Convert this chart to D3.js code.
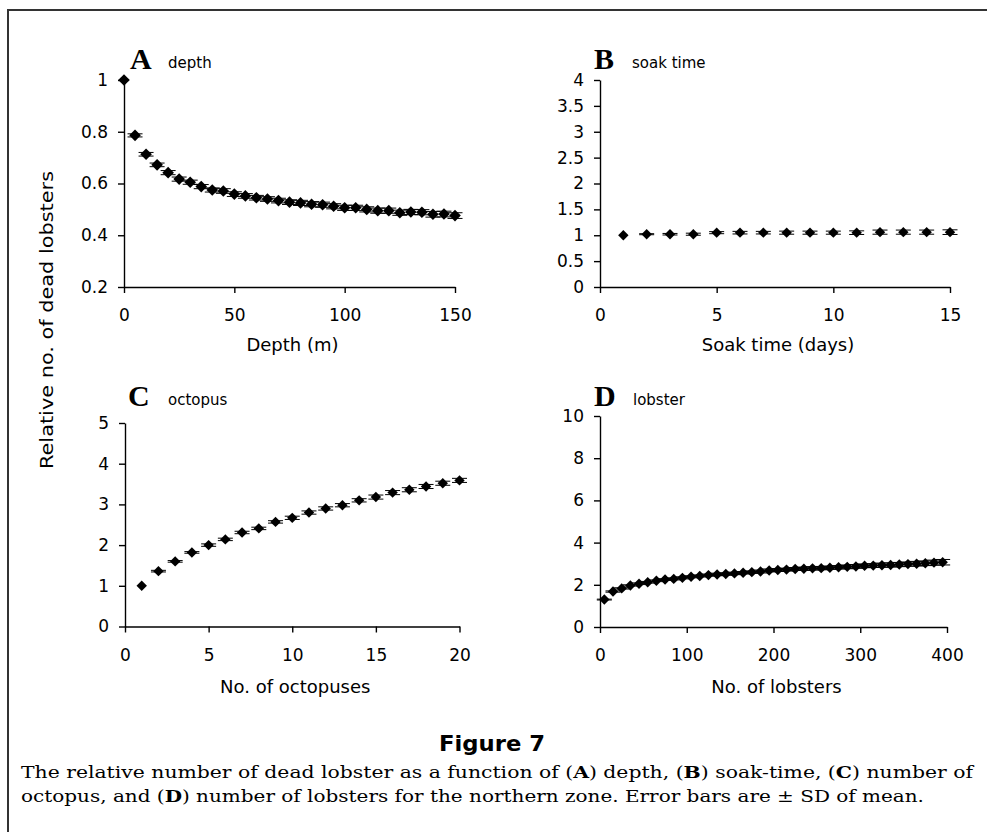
<!DOCTYPE html>
<html>
<head>
<meta charset="utf-8">
<script src="https://cdn.jsdelivr.net/npm/d3@7"></script>
<style>
body { margin: 0; background: #fff; }
svg text { fill: #000; }
</style>
</head>
<body>
<div id="chart"></div>
<script>

// A - depth
const depthX = [0, 5, 10, 15, 20, 25, 30, 35, 40, 45, 50, 55, 60, 65, 70, 75, 80, 85, 90, 95, 100, 105, 110, 115, 120, 125, 130, 135, 140, 145, 150];
const depthY = [1.000, 0.786, 0.713, 0.672, 0.642, 0.617, 0.605, 0.588, 0.575, 0.571, 0.559, 0.552, 0.545, 0.540, 0.534, 0.528, 0.525, 0.520, 0.518, 0.512, 0.506, 0.506, 0.500, 0.495, 0.495, 0.487, 0.490, 0.489, 0.481, 0.482, 0.476];
const depthSD = [0, 0.006, 0.007, 0.007, 0.008, 0.008, 0.008, 0.008, 0.008, 0.009, 0.009, 0.009, 0.009, 0.009, 0.009, 0.009, 0.010, 0.010, 0.010, 0.010, 0.010, 0.010, 0.010, 0.010, 0.010, 0.010, 0.010, 0.010, 0.011, 0.011, 0.011];
const depthTicksX = [0, 50, 100, 150];
const depthTicksY = [0.2, 0.4, 0.6, 0.8, 1];

// B - soak time
const soakX = [1, 2, 3, 4, 5, 6, 7, 8, 9, 10, 11, 12, 13, 14, 15];
const soakY = [1.00, 1.02, 1.02, 1.02, 1.05, 1.05, 1.05, 1.05, 1.05, 1.05, 1.05, 1.06, 1.06, 1.06, 1.06];
const soakSD = [0, 0.01, 0.015, 0.02, 0.02, 0.025, 0.025, 0.03, 0.03, 0.03, 0.035, 0.04, 0.04, 0.04, 0.045];
const soakTicksX = [0, 5, 10, 15];
const soakTicksY = [0, 0.5, 1, 1.5, 2, 2.5, 3, 3.5, 4];

// C - octopus
const octX = [1, 2, 3, 4, 5, 6, 7, 8, 9, 10, 11, 12, 13, 14, 15, 16, 17, 18, 19, 20];
const octY = [1.00, 1.36, 1.60, 1.82, 2.00, 2.14, 2.31, 2.41, 2.57, 2.67, 2.80, 2.90, 2.98, 3.10, 3.18, 3.29, 3.36, 3.44, 3.52, 3.59];
const octSD = [0, 0.02, 0.02, 0.02, 0.03, 0.03, 0.03, 0.03, 0.03, 0.04, 0.04, 0.04, 0.04, 0.04, 0.05, 0.05, 0.05, 0.05, 0.05, 0.05];
const octTicksX = [0, 5, 10, 15, 20];
const octTicksY = [0, 1, 2, 3, 4, 5];

// D - lobster
const lobX = [5, 15, 25, 35, 45, 55, 65, 75, 85, 95, 105, 115, 125, 135, 145, 155, 165, 175, 185, 195, 205, 215, 225, 235, 245, 255, 265, 275, 285, 295, 305, 315, 325, 335, 345, 355, 365, 375, 385, 395];
const lobY = [1.30, 1.68, 1.83, 1.97, 2.05, 2.12, 2.19, 2.25, 2.28, 2.33, 2.38, 2.42, 2.46, 2.49, 2.51, 2.54, 2.57, 2.60, 2.63, 2.68, 2.70, 2.72, 2.75, 2.76, 2.78, 2.79, 2.81, 2.83, 2.85, 2.87, 2.90, 2.91, 2.93, 2.94, 2.96, 2.98, 3.00, 3.02, 3.05, 3.07];
const lobSD = [0.02, 0.03, 0.03, 0.03, 0.04, 0.04, 0.04, 0.04, 0.05, 0.05, 0.05, 0.05, 0.05, 0.06, 0.06, 0.06, 0.06, 0.06, 0.07, 0.07, 0.07, 0.07, 0.07, 0.08, 0.08, 0.08, 0.08, 0.08, 0.09, 0.09, 0.09, 0.09, 0.10, 0.10, 0.10, 0.10, 0.11, 0.11, 0.12, 0.13];
const lobTicksX = [0, 100, 200, 300, 400];
const lobTicksY = [0, 2, 4, 6, 8, 10];

const yTitle = "Relative no. of dead lobsters";

const W = 987, H = 832;
const sansFont = "'DejaVu Sans', 'Liberation Sans', Arial, sans-serif";

const svg = d3.select("#chart").append("svg")
	.attr("width", W)
	.attr("height", H)
	.style("display", "block");

svg.append("rect").attr("width", W).attr("height", H).attr("fill", "#fff");

// frame, open on the right and bottom
svg.append("path")
	.attr("d", "M8," + (H + 5) + "V10H" + (W + 5))
	.attr("fill", "none")
	.attr("stroke", "#333")
	.attr("stroke-width", 2);

// diamond marker, a square turned 45 degrees
const diamond = {
	draw(ctx, size) {
		const r = Math.sqrt(size / 2);
		ctx.moveTo(0, -r);
		ctx.lineTo(r, 0);
		ctx.lineTo(0, r);
		ctx.lineTo(-r, 0);
		ctx.closePath();
	}
};

const panels = [
	{ letter: "A", sub: "depth", xs: depthX, ys: depthY, sd: depthSD, xDomain: [0, 150], yDomain: [0.2, 1],
		xTicks: depthTicksX, yTicks: depthTicksY, xTitle: "Depth (m)",
		left: 124, right: 455, top: 80, bottom: 287, r: 5.8, letterX: 130, letterY: 69, subX: 168, titleY: 351 },
	{ letter: "B", sub: "soak time", xs: soakX, ys: soakY, sd: soakSD, xDomain: [0, 15], yDomain: [0, 4],
		xTicks: soakTicksX, yTicks: soakTicksY, xTitle: "Soak time (days)",
		left: 600, right: 950, top: 80, bottom: 287, r: 5.2, letterX: 594, letterY: 69, subX: 632, titleY: 351 },
	{ letter: "C", sub: "octopus", xs: octX, ys: octY, sd: octSD, xDomain: [0, 20], yDomain: [0, 5],
		xTicks: octTicksX, yTicks: octTicksY, xTitle: "No. of octopuses",
		left: 125, right: 459.5, top: 423, bottom: 626.5, r: 5.2, letterX: 128, letterY: 406, subX: 168, titleY: 693 },
	{ letter: "D", sub: "lobster", xs: lobX, ys: lobY, sd: lobSD, xDomain: [0, 400], yDomain: [0, 10],
		xTicks: lobTicksX, yTicks: lobTicksY, xTitle: "No. of lobsters",
		left: 600, right: 947, top: 416, bottom: 627, r: 5.2, letterX: 594, letterY: 406, subX: 633, titleY: 693 }
];

panels.forEach(p => drawPanel(p));

function drawPanel(p) {
	const x = d3.scaleLinear().domain(p.xDomain).range([p.left, p.right]);
	const y = d3.scaleLinear().domain(p.yDomain).range([p.bottom, p.top]);
	const fmt = d3.format("~g");
	const g = svg.append("g").attr("class", "panel-" + p.letter);

	// axes
	const xAxis = g.append("g")
		.attr("transform", "translate(0," + p.bottom + ")")
		.call(d3.axisBottom(x).tickValues(p.xTicks).tickFormat(fmt).tickSizeInner(6).tickSizeOuter(0).tickPadding(16));
	const yAxis = g.append("g")
		.attr("transform", "translate(" + p.left + ",0)")
		.call(d3.axisLeft(y).tickValues(p.yTicks).tickFormat(fmt).tickSizeInner(6).tickSizeOuter(0).tickPadding(10));

	[xAxis, yAxis].forEach(a => {
		a.selectAll("path, line").attr("stroke", "#000").attr("stroke-width", 1.4);
		a.selectAll("text").attr("font-family", sansFont).attr("font-size", 17).attr("fill", "#000");
	});

	// error bars
	const pts = p.xs.map((v, i) => ({ x: v, y: p.ys[i], sd: p.sd[i] }));
	const bars = g.append("g").attr("stroke", "#000").attr("stroke-width", 1);
	const cap = 7.5;
	pts.forEach(d => {
		if (!d.sd) return;
		const cx = x(d.x), y0 = y(d.y - d.sd), y1 = y(d.y + d.sd);
		bars.append("line").attr("x1", cx).attr("x2", cx).attr("y1", y0).attr("y2", y1);
		bars.append("line").attr("x1", cx - cap).attr("x2", cx + cap).attr("y1", y0).attr("y2", y0);
		bars.append("line").attr("x1", cx - cap).attr("x2", cx + cap).attr("y1", y1).attr("y2", y1);
	});

	// markers
	g.append("g").selectAll("path")
		.data(pts)
		.enter().append("path")
		.attr("transform", d => "translate(" + x(d.x) + "," + y(d.y) + ")")
		.attr("d", d3.symbol().type(diamond).size(2 * p.r * p.r))
		.attr("fill", "#000");

	// panel letter and label
	g.append("text")
		.attr("x", p.letterX)
		.attr("y", p.letterY)
		.attr("font-family", "'Liberation Serif', 'Times New Roman', serif")
		.attr("font-weight", "bold")
		.attr("font-size", 30)
		.text(p.letter);
	g.append("text")
		.attr("x", p.subX)
		.attr("y", p.letterY - 1)
		.attr("font-family", sansFont)
		.attr("font-size", 15)
		.text(p.sub);

	// x title
	g.append("text")
		.attr("x", (p.left + p.right) / 2 + 3)
		.attr("y", p.titleY)
		.attr("text-anchor", "middle")
		.attr("font-family", sansFont)
		.attr("font-size", 18)
		.text(p.xTitle);
}

// shared y title
svg.append("text")
	.attr("transform", "translate(53,320) rotate(-90)")
	.attr("text-anchor", "middle")
	.attr("font-family", sansFont)
	.attr("font-size", 18)
	.attr("textLength", 298)
	.attr("lengthAdjust", "spacingAndGlyphs")
	.text(yTitle);

// caption
svg.append("text")
	.attr("x", 492)
	.attr("y", 751)
	.attr("text-anchor", "middle")
	.attr("font-family", sansFont)
	.attr("font-weight", "bold")
	.attr("font-size", 21)
	.attr("textLength", 106)
	.attr("lengthAdjust", "spacingAndGlyphs")
	.text("Figure 7");

const captionLines = [
	[["The relative number of dead lobster as a function of (", false], ["A", true], [") depth, (", false], ["B", true], [") soak-time, (", false], ["C", true], [") number of", false]],
	[["octopus, and (", false], ["D", true], [") number of lobsters for the northern zone. Error bars are ± SD of mean.", false]]
];
const captionWidths = [952, 903];
const captionY = [778, 802];

captionLines.forEach((parts, i) => {
	const t = svg.append("text")
		.attr("x", 21)
		.attr("y", captionY[i])
		.attr("font-family", "'DejaVu Serif', 'Liberation Serif', serif")
		.attr("font-size", 16.5)
		.attr("textLength", captionWidths[i])
		.attr("lengthAdjust", "spacingAndGlyphs");
	parts.forEach(([s, bold]) => {
		t.append("tspan").attr("font-weight", bold ? "bold" : "normal").text(s);
	});
});
</script>
</body>
</html>
